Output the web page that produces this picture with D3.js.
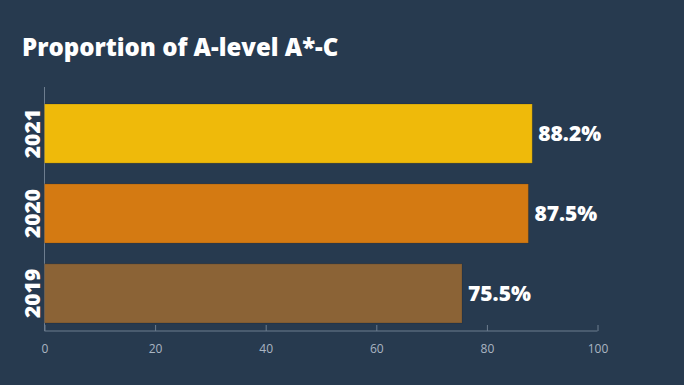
<!DOCTYPE html>
<html>
<head>
<meta charset="utf-8">
<script src="https://cdn.jsdelivr.net/npm/d3@7"></script>
<style>
  body { margin: 0; background: #273a4f; }
  svg { display: block; }
</style>
</head>
<body>
<div id="chart"></div>
<script>
const years = ["2021", "2020", "2019"];
const values = [88.2, 87.5, 75.5];
const colors = ["#efba0a", "#d47a12", "#8b6336"];
const ticks = [0, 20, 40, 60, 80, 100];

let width = 684,
  height = 385,
  padding = {"top": 104, "bottom": 54, "left": 44.5, "right": 86.5};

const svg = d3.select("#chart")
  .append("svg")
  .attr("width", width)
  .attr("height", height)
  .style("background", "#273a4f");

svg.append("text")
  .text("Proportion of A-level A*-C")
  .attr("x", 22)
  .attr("y", 56)
  .style("fill", "#ffffff")
  .style("font-family", "'Open Sans', sans-serif")
  .style("font-weight", 800)
  .style("font-size", "24px");

let x = d3.scaleLinear()
  .domain([0, 100])
  .range([padding.left, width - padding.right]);

let y = d3.scaleBand()
  .domain(years)
  .range([padding.top, height - padding.bottom - 8])
  .paddingInner(0.26);

// y axis line
svg.append("line")
  .attr("x1", padding.left)
  .attr("x2", padding.left)
  .attr("y1", 87)
  .attr("y2", height - padding.bottom)
  .style("stroke", "#6d7d8f")
  .style("stroke-width", 1);

// x axis
const xAxis = d3.axisTop(x).tickValues(ticks).tickSize(6).tickFormat(d3.format("d"));
const gx = svg.append("g")
  .attr("transform", "translate(0," + (height - padding.bottom) + ")")
  .call(xAxis);
gx.select(".domain").remove();
gx.append("line")
  .attr("x1", x(0))
  .attr("x2", x(100))
  .style("stroke", "#6d7d8f");
gx.selectAll(".tick line").style("stroke", "#6d7d8f");
gx.selectAll(".tick text")
  .attr("y", 22)
  .style("fill", "#aab5c2")
  .style("font-family", "'Open Sans', sans-serif")
  .style("font-weight", 400)
  .style("font-size", "12px");

const data = years.map((d, i) => ({year: d, value: values[i], color: colors[i]}));

svg.selectAll("rect.bar")
  .data(data)
  .enter()
  .append("rect")
  .attr("class", "bar")
  .attr("x", x(0))
  .attr("y", (d) => y(d.year))
  .attr("width", (d) => x(d.value) - x(0))
  .attr("height", y.bandwidth())
  .style("fill", (d) => d.color)
  .style("stroke", "rgba(0,0,0,0.15)")
  .style("stroke-width", 1);

svg.selectAll("text.value")
  .data(data)
  .enter()
  .append("text")
  .attr("class", "value")
  .text((d) => d.value.toFixed(1) + "%")
  .attr("x", (d) => x(d.value) + 6)
  .attr("y", (d) => y(d.year) + y.bandwidth() / 2)
  .attr("dy", "0.36em")
  .style("fill", "#ffffff")
  .style("font-family", "'Open Sans', sans-serif")
  .style("font-weight", 800)
  .style("font-size", "21px");

svg.selectAll("text.year")
  .data(data)
  .enter()
  .append("text")
  .attr("class", "year")
  .text((d) => d.year)
  .attr("text-anchor", "middle")
  .attr("transform", (d) => "translate(40," + (y(d.year) + y.bandwidth() / 2) + ") rotate(-90)")
  .style("fill", "#ffffff")
  .style("font-family", "'Open Sans', sans-serif")
  .style("font-weight", 800)
  .style("font-size", "21px");
</script>
</body>
</html>
